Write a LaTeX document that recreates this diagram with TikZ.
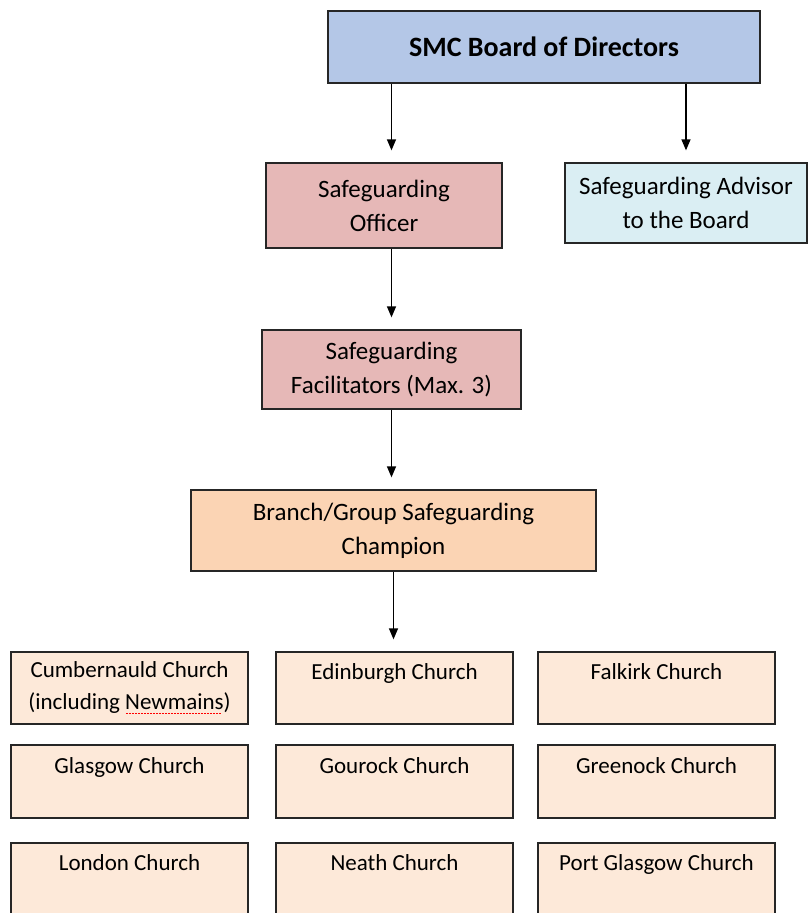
\documentclass[tikz,border=0pt]{standalone}
\usepackage{fontspec}
\setmainfont{Carlito}
\usepackage{xcolor}
\usepackage{tikz}
\usetikzlibrary{arrows.meta}

\definecolor{boardblue}{HTML}{B4C7E7}
\definecolor{officerpink}{HTML}{E6B8B7}
\definecolor{advisorblue}{HTML}{DAEEF3}
\definecolor{champpeach}{HTML}{FBD4B4}
\definecolor{churchpeach}{HTML}{FDE9D9}

% red spell-check mark under a word
\newcommand{\spellmark}[1]{\setbox0\hbox{#1}\rlap{#1}\raisebox{-4pt}{\color{red}\hbox to \wd0{\leaders\hbox to 3pt{\hss\rule{1.8pt}{0.8pt}\hss}\hfill}}}

\begin{document}
\begin{tikzpicture}[x=1pt, y=-1pt]
\tikzstyle{box}=[draw=black!85, line width=1.3pt, inner sep=0pt, align=center, font=\fontsize{25}{34}\selectfont]
\tikzstyle{church}=[box, fill=churchpeach, minimum width=237pt, font=\fontsize{23}{32}\selectfont]
\tikzstyle{arr}=[line width=1.3pt, -{Triangle[width=9pt, length=11pt]}, shorten >=12pt]
\useasboundingbox (0,0) rectangle (808,913);
\clip (0,0) rectangle (808,913);

\node[box, fill=boardblue, minimum width=432pt, minimum height=72pt,
  font=\fontsize{28}{34}\selectfont\bfseries] (board) at (544,47) {SMC Board of Directors};
\node[box, fill=officerpink, minimum width=236pt, minimum height=85pt] (off) at (384,205.5) {Safeguarding\\Officer};
\node[box, fill=advisorblue, minimum width=242pt, minimum height=80pt] (adv) at (686,203) {Safeguarding Advisor\\to the Board};
\node[box, fill=officerpink, minimum width=259pt, minimum height=79pt] (fac) at (391.5,369.5) {Safeguarding\\Facilitators (Max. 3)};
\node[box, fill=champpeach, minimum width=405pt, minimum height=81pt] (champ) at (393.5,530.5) {Branch/Group Safeguarding\\Champion};

% churches
\node[church, minimum height=72pt] (cumb) at (129.5,688) {Cumbernauld Church\\(including \spellmark{Newmains})};
\node[church, minimum height=72pt] (edin) at (394.5,688) {Edinburgh Church\\\mbox{}};
\node[church, minimum height=72pt] (falk) at (656.5,688) {Falkirk Church\\\mbox{}};
\node[church, minimum height=73pt] (glas) at (129.5,781.5) {Glasgow Church\\\mbox{}};
\node[church, minimum height=73pt] (gour) at (394.5,781.5) {Gourock Church\\\mbox{}};
\node[church, minimum height=73pt] (gree) at (656.5,781.5) {Greenock Church\\\mbox{}};
\node[church, minimum height=72pt] (lond) at (129.5,879) {London Church\\\mbox{}};
\node[church, minimum height=72pt] (neat) at (394.5,879) {Neath Church\\\mbox{}};
\node[church, minimum height=72pt] (port) at (656.5,879) {Port Glasgow Church\\\mbox{}};

\path[arr]
(board.south -| fac) edge (off.north -| fac)
(board.south -| adv) edge (adv.north)
(off.south -| fac) edge (fac.north)
(fac.south) edge (fac.south |- champ.north)
(champ.south) edge (champ.south |- edin.north);

\end{tikzpicture}
\end{document}
